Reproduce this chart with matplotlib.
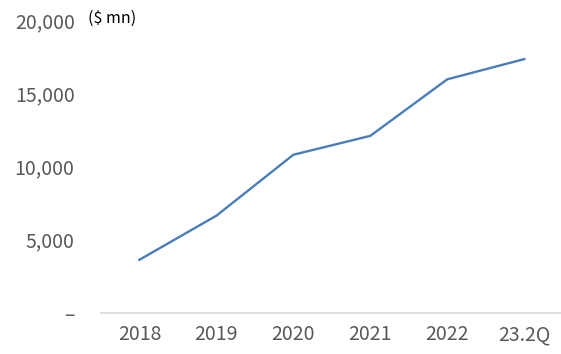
import matplotlib.pyplot as plt
from matplotlib.ticker import FuncFormatter

periods = ["2018", "2019", "2020", "2021", "2022", "23.2Q"]
values = [3630, 6640, 10800, 12090, 15950, 17330]
yticks = [0, 5000, 10000, 15000, 20000]

plt.rcParams["font.family"] = ["Noto Sans CJK KR", "DejaVu Sans"]

fig = plt.figure(figsize=(5.61, 3.54), dpi=100)
ax = fig.add_axes([0.18, 0.116, 0.823, 0.8275])

x = list(range(len(periods)))
ax.plot(x, values, color="#4a7ebb", linewidth=1.7)

ax.set_xlim(-0.5, len(periods) - 0.5)
ax.set_ylim(0, 20000)
ax.set_xticks(x)
ax.set_xticklabels(periods)
ax.set_yticks(yticks)
ax.yaxis.set_major_formatter(
    FuncFormatter(lambda v, p: "–" if v == 0 else f"{int(v):,}"))

for s in ["top", "right", "left"]:
    ax.spines[s].set_visible(False)
ax.spines["bottom"].set_color("#d9d9d9")
ax.spines["bottom"].set_linewidth(1.2)
ax.tick_params(length=0, labelsize=14, colors="#595959")
ax.tick_params(axis="y", pad=19)
ax.tick_params(axis="x", pad=8)

fig.text(88 / 561, 1 - 18 / 354, "($ mn)", fontsize=11.5, color="black",
         va="center", ha="left")

fig.savefig("out.png")
